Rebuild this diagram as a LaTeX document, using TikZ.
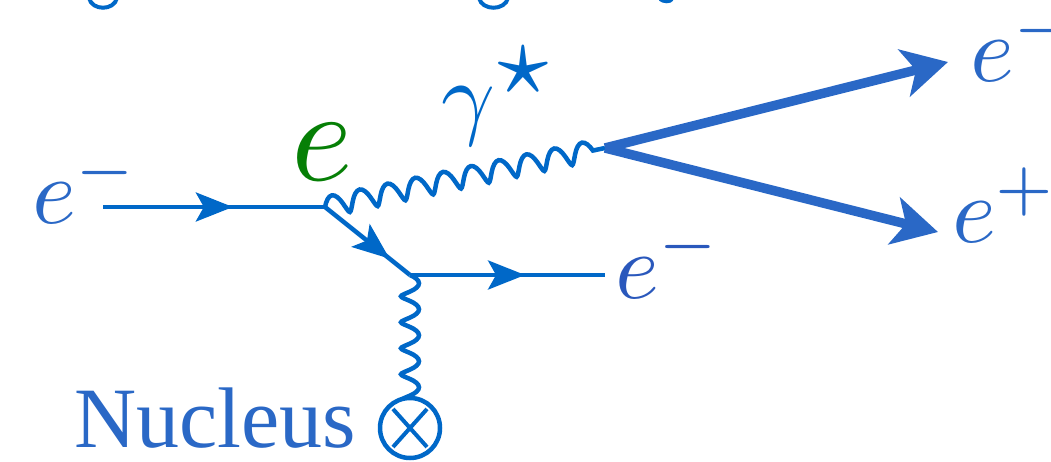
\documentclass[tikz,border=0pt]{standalone}
\usepackage{fontspec}
\setmainfont{Liberation Serif}
\usepackage{amsmath,amssymb}
\usetikzlibrary{arrows.meta,decorations.pathmorphing,decorations.markings}
\definecolor{thinb}{HTML}{0068C8}
\definecolor{thickb}{HTML}{2A68C6}
\definecolor{darkb}{HTML}{2A58BC}
\definecolor{greenE}{HTML}{067F06}
\tikzset{
  x=1pt,y=-1pt,
  fermion/.style={draw=thinb,line width=4.5pt,postaction={decorate},decoration={markings,mark=at position #1 with {\arrow[thinb]{Stealth[length=37pt,width=29pt,inset=8pt]}}}},
  lepton/.style={draw=thickb,line width=9.5pt,-{Stealth[length=45pt,width=48pt,inset=12pt]}},
  photon/.style={draw=thinb,line width=4.5pt,decorate,decoration={coil,aspect=0.2,amplitude=#1,pre length=0pt,post length=0pt}},
  elabel/.style={inner sep=0pt,outer sep=0pt,text=thickb,scale=9.4},
  frag/.style={draw=thinb,line width=4pt},
}
\begin{document}
\begin{tikzpicture}
\useasboundingbox (0,0) rectangle (1051,462);
\clip (0,0) rectangle (1051,462);
\coordinate (in) at (103,207);
\coordinate (v1) at (325,207);
\coordinate (v2) at (410,275);
\coordinate (out) at (605,275);
\coordinate (v3) at (605,148);
\coordinate (lm) at (948,62);
\coordinate (lp) at (938,232);
\coordinate (nucc) at (410,428);
\draw[frag] (89,-2) .. controls (92,11) and (114,11) .. (117,-2);
\draw[frag] (479,-2) .. controls (482,11) and (505,11) .. (508,-2);
\draw[frag] (660,-1) .. controls (664,2) and (670,2) .. (672,-1);
\draw[photon=9pt,decoration={segment length=26pt}] (v2) -- (nucc);
\node[draw=thinb,fill=white,line width=4.5pt,circle,inner sep=0pt,minimum size=60pt] (nuc) at (nucc) {};
\draw[thinb,line width=4pt] (nuc.center) ++(-17,-19) -- ++(34,38) ++(0,-38) -- ++(-34,38);
\draw[fermion=0.585] (in) -- (v1);
\draw[fermion=0.76] (v1) -- (v2);
\draw[fermion=0.59] (v2) -- (out);
\draw[photon=10pt,decoration={segment length=28.4pt}] (v1) -- (v3);
\draw[lepton] (v3) -- (lm);
\draw[lepton] (v3) -- (lp);
\node[elabel,anchor=base west] (a) at (32,224) {$e^-$};
\node[elabel,anchor=base west,text=greenE,scale=1.4] (b) at (291,181) {$e$};
\node[elabel,anchor=base west,text=thinb] (c) at (441,128) {$\gamma^{\scalebox{1.5}{$\scriptstyle\star$}}$};
\node[elabel,anchor=base west,text=darkb] (d) at (615,298) {$e^-$};
\node[elabel,anchor=base west] (f) at (970,82) {$e^-$};
\node[elabel,anchor=base west] (g) at (952,243) {$e^+$};
\node[inner sep=0pt,anchor=base west,text=thickb,font=\fontsize{86}{90}\selectfont] (n) at (74,447) {Nucleus};
\end{tikzpicture}
\end{document}
